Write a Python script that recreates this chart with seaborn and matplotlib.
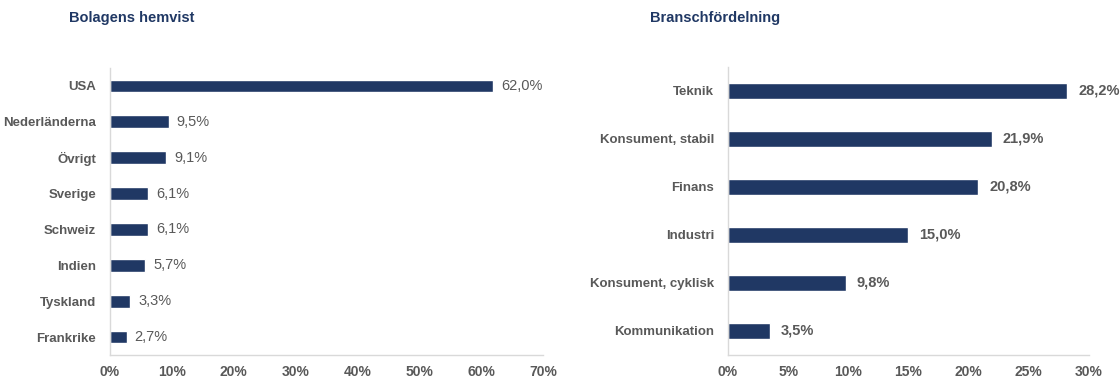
import numpy as np
import pandas as pd
import matplotlib
matplotlib.use("Agg")
import matplotlib.pyplot as plt
import seaborn as sns

# Data
hemvist_labels = ["USA", "Nederländerna", "Övrigt", "Sverige", "Schweiz", "Indien", "Tyskland", "Frankrike"]
hemvist_values = [62.0, 9.5, 9.1, 6.1, 6.1, 5.7, 3.3, 2.7]

bransch_labels = ["Teknik", "Konsument, stabil", "Finans", "Industri", "Konsument, cyklisk", "Kommunikation"]
bransch_values = [28.2, 21.9, 20.8, 15.0, 9.8, 3.5]

hemvist_ticks = [0, 10, 20, 30, 40, 50, 60, 70]
bransch_ticks = [0, 5, 10, 15, 20, 25, 30]

NAVY = "#203864"
GREY = "#595959"
AXIS = "#d9d9d9"

sns.set_style("white")
plt.rcParams["font.family"] = ["Liberation Sans", "DejaVu Sans"]

fig = plt.figure(figsize=(11.2, 3.78), dpi=100)
ax1 = fig.add_axes([0.0982, 0.061, 0.3866, 0.759])
ax2 = fig.add_axes([0.650, 0.061, 0.3223, 0.762])


def draw(ax, labels, values, ticks, bar_h, value_bold, pad):
    df = pd.DataFrame({"cat": labels, "val": values})
    sns.barplot(data=df, x="val", y="cat", orient="h", color=NAVY, width=bar_h,
                saturation=1, ax=ax)
    n = len(labels)
    ax.set_xlim(ticks[0], ticks[-1])
    ax.set_ylim(n - 0.5, -0.5)
    ax.set_xticks(ticks)
    ax.set_xticklabels([f"{t}%" for t in ticks], fontsize=10, fontweight="bold", color=GREY)
    ax.set_yticks(range(n))
    ax.set_yticklabels(labels, fontsize=9.5, fontweight="bold", color=GREY)
    ax.set_yticks(np.arange(-0.5, n, 1.0), minor=True)
    ax.tick_params(axis="y", which="major", length=0, pad=10)
    ax.tick_params(axis="y", which="minor", length=5, color=AXIS, width=1)
    ax.tick_params(axis="x", which="major", length=4, color=AXIS, width=1, pad=3)
    ax.set_xlabel("")
    ax.set_ylabel("")
    for side in ["top", "right"]:
        ax.spines[side].set_visible(False)
    for side in ["left", "bottom"]:
        ax.spines[side].set_color(AXIS)
        ax.spines[side].set_linewidth(1)
    for i, v in enumerate(values):
        ax.text(v + pad, i, f"{v:.1f}%".replace(".", ","), va="center", ha="left",
                fontsize=10.5, color=GREY, fontweight="bold" if value_bold else "normal")


draw(ax1, hemvist_labels, hemvist_values, hemvist_ticks, 0.36, False, 1.3)
draw(ax2, bransch_labels, bransch_values, bransch_ticks, 0.32, True, 0.9)

fig.text(69 / 1120, 1 - 18 / 378, "Bolagens hemvist", fontsize=10.5, fontweight="bold",
         color=NAVY, va="center", ha="left")
fig.text(650 / 1120, 1 - 18 / 378, "Branschfördelning", fontsize=10.5, fontweight="bold",
         color=NAVY, va="center", ha="left")

fig.savefig("out.png", dpi=100, facecolor="white")
